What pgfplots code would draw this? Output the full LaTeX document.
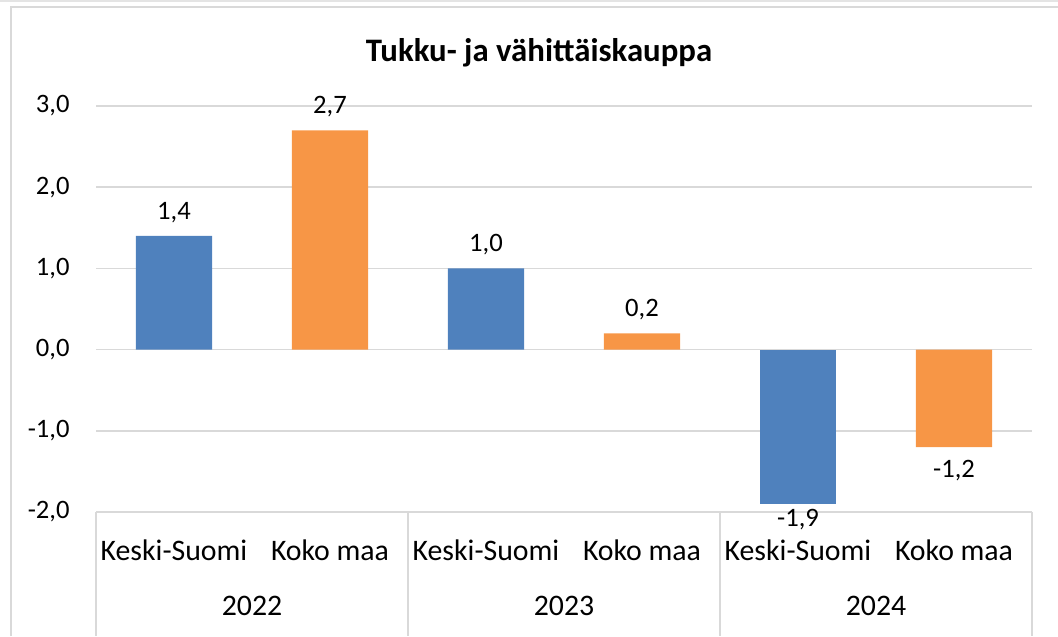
\documentclass[border=0pt]{standalone}
\usepackage{pgfplots}
\pgfplotsset{compat=1.18}
\usepackage{fontspec}
\setmainfont{Carlito}
\definecolor{xlblue}{RGB}{79,129,189}
\definecolor{xlorange}{RGB}{247,150,70}
\definecolor{gridgray}{RGB}{217,217,217}
\begin{document}
\begin{tikzpicture}
\path[use as bounding box] (-48pt,-62pt) rectangle (481pt,256pt);
\draw[gridgray, line width=0.8pt] (-42.5pt,-62pt) -- (-42.5pt,252.5pt) -- (481pt,252.5pt);
\draw[gridgray!70, line width=1.5pt] (-48pt,255.5pt) -- (481pt,255.5pt);
\begin{axis}[
  at={(0,0)}, anchor=south west,
  scale only axis, width=468pt, height=203pt,
  xmin=-0.5, xmax=5.5, ymin=-2, ymax=3,
  ytick={-2,-1,0,1,2,3},
  xtick={0,1,2,3,4,5},
  xticklabels={Keski-Suomi,Koko maa,Keski-Suomi,Koko maa,Keski-Suomi,Koko maa},
  axis line style={draw=none},
  major tick length=0pt,
  ymajorgrids, grid style={gridgray, line width=0.8pt},
  /pgf/number format/.cd, use comma, fixed, fixed zerofill, precision=1, assume math mode=true,
  /pgfplots/.cd,
  yticklabel style={font=\fontsize{13.3}{15}\selectfont, anchor=east, inner sep=0pt, xshift=-13pt},
  xticklabel style={font=\fontsize{14.9}{17}\selectfont, anchor=center, inner sep=0pt, yshift=-19pt},
  title={\textbf{Tukku- ja vähittäiskauppa}},
  title style={font=\fontsize{16.4}{19}\selectfont, at={(0.5,1)}, anchor=center, yshift=20.5pt, xshift=-12.5pt},
  ybar, bar width=0.49,
  nodes near coords,
  every node near coord/.append style={font=\fontsize{13.3}{15}\selectfont, inner sep=6.5pt, text=black},
  clip=false,
]
\addplot[fill=xlblue, draw=none, bar shift=0pt] coordinates {(0,1.4) (2,1.0)};
\addplot[fill=xlblue, draw=none, bar shift=0pt,
  every node near coord/.append style={inner sep=2.5pt}] coordinates {(4,-1.9)};
\addplot[fill=xlorange, draw=none, bar shift=0pt] coordinates {(1,2.7) (3,0.2) (5,-1.2)};
\draw[gridgray, line width=0.8pt] (axis cs:-0.5,-2) -- ++(0pt,-62pt);
\draw[gridgray, line width=0.8pt] (axis cs:1.5,-2) -- ++(0pt,-62pt);
\draw[gridgray, line width=0.8pt] (axis cs:3.5,-2) -- ++(0pt,-62pt);
\draw[gridgray, line width=0.8pt] (axis cs:5.5,-2) -- ++(0pt,-62pt);
\node[font=\fontsize{14.9}{17}\selectfont, anchor=center, yshift=-47pt] at (axis cs:0.5,-2) {2022};
\node[font=\fontsize{14.9}{17}\selectfont, anchor=center, yshift=-47pt] at (axis cs:2.5,-2) {2023};
\node[font=\fontsize{14.9}{17}\selectfont, anchor=center, yshift=-47pt] at (axis cs:4.5,-2) {2024};
\end{axis}
\end{tikzpicture}
\end{document}
